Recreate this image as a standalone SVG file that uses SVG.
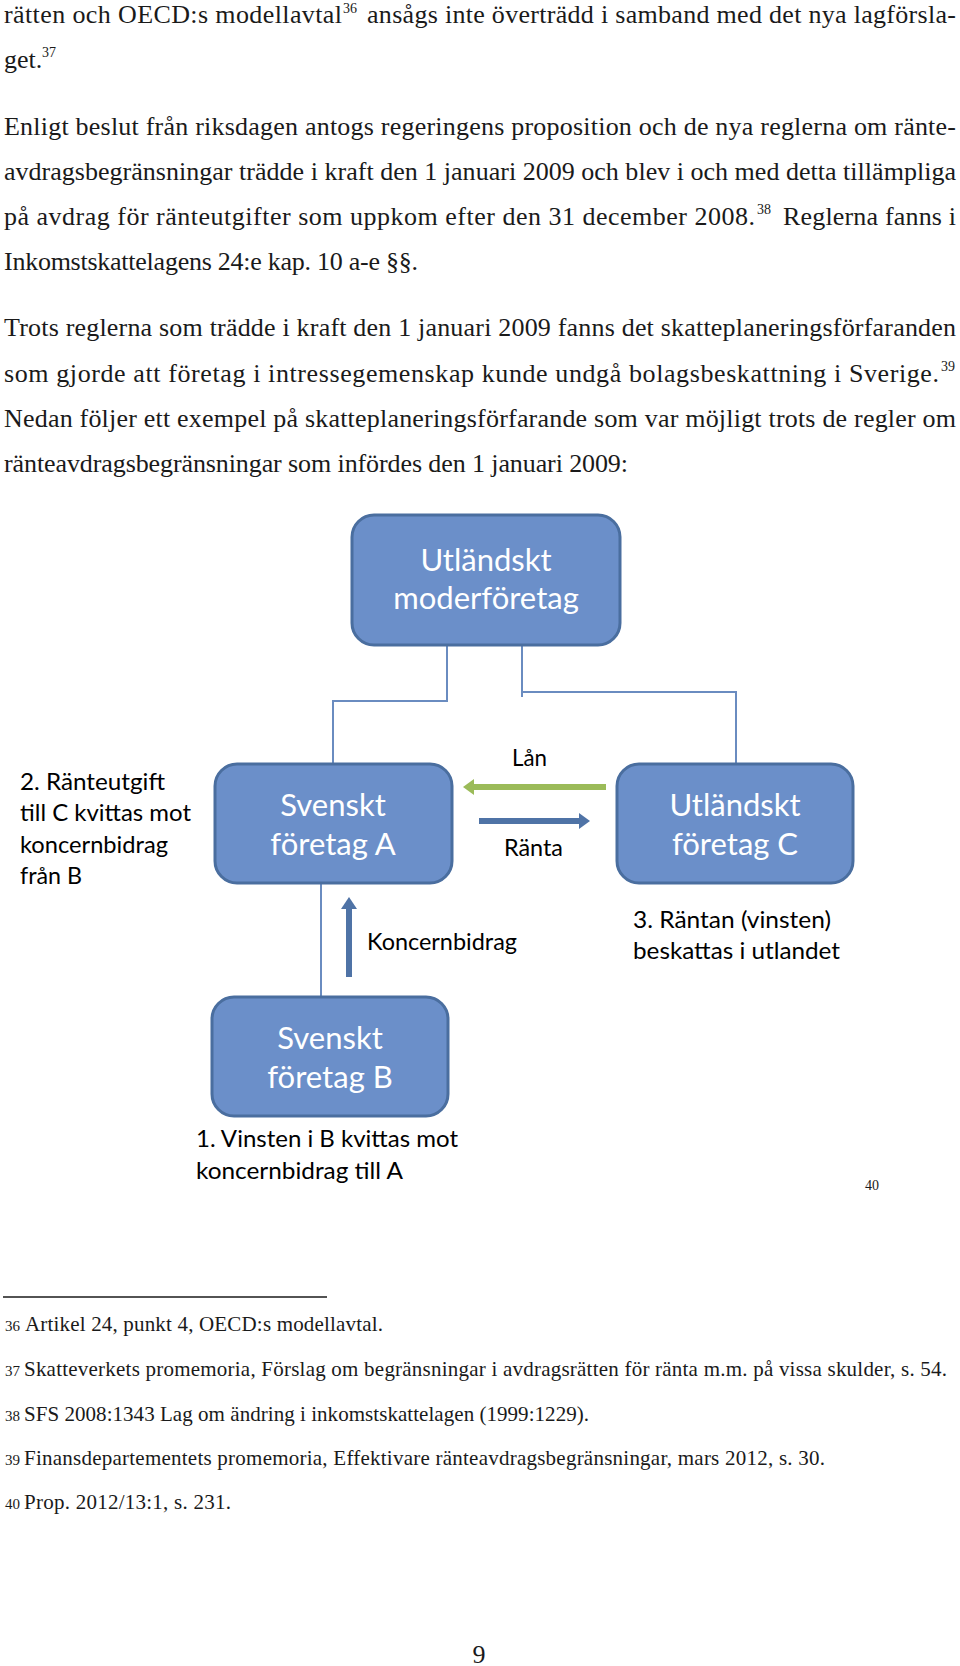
<svg xmlns="http://www.w3.org/2000/svg" width="960" height="1666" viewBox="0 0 960 1666">
<style>
.body{font-family:"Liberation Serif","Times New Roman",serif;font-size:26px;fill:#1a1a1a}
.sup{font-family:"Liberation Serif","Times New Roman",serif;font-size:14px;fill:#1a1a1a}
.fn{font-family:"Liberation Serif","Times New Roman",serif;font-size:21px;fill:#1a1a1a}
.fnum{font-family:"Liberation Serif","Times New Roman",serif;font-size:15px;fill:#1a1a1a}
.box{fill:#6B8FC9;stroke:#4A6E9F;stroke-width:3}
.bt{font-family:Lato,"Open Sans",sans-serif;font-size:31px;fill:#ffffff;text-anchor:middle}
.lbl{font-family:Lato,"Open Sans",sans-serif;font-size:23px;fill:#000000}
.con{fill:none;stroke:#6A8CC0;stroke-width:2}
</style>
<rect x="0" y="0" width="960" height="1666" fill="#ffffff"/>
<g id="text-body">
<text class="body" x="4" y="23" textLength="338" lengthAdjust="spacing">rätten och OECD:s modellavtal</text>
<text class="sup" x="343" y="13">36</text>
<text class="body" x="367" y="23" textLength="589" lengthAdjust="spacing">ansågs inte överträdd i samband med det nya lagförsla-</text>
<text class="body" x="4" y="68">get.</text>
<text class="sup" x="42" y="57">37</text>
<text class="body" x="4" y="135" textLength="952" lengthAdjust="spacing">Enligt beslut från riksdagen antogs regeringens proposition och de nya reglerna om ränte-</text>
<text class="body" x="4" y="180" textLength="952" lengthAdjust="spacing">avdragsbegränsningar trädde i kraft den 1 januari 2009 och blev i och med detta tillämpliga</text>
<text class="body" x="4" y="225" textLength="751" lengthAdjust="spacing">på avdrag för ränteutgifter som uppkom efter den 31 december 2008.</text>
<text class="sup" x="757" y="214">38</text>
<text class="body" x="783" y="225" textLength="173" lengthAdjust="spacing">Reglerna fanns i</text>
<text class="body" x="4" y="270" textLength="414" lengthAdjust="spacing">Inkomstskattelagens 24:e kap. 10 a-e §§.</text>
<text class="body" x="4" y="336" textLength="952" lengthAdjust="spacing">Trots reglerna som trädde i kraft den 1 januari 2009 fanns det skatteplaneringsförfaranden</text>
<text class="body" x="4" y="382" textLength="935" lengthAdjust="spacing">som gjorde att företag i intressegemenskap kunde undgå bolagsbeskattning i Sverige.</text>
<text class="sup" x="941" y="371">39</text>
<text class="body" x="4" y="427" textLength="952" lengthAdjust="spacing">Nedan följer ett exempel på skatteplaneringsförfarande som var möjligt trots de regler om</text>
<text class="body" x="4" y="472" textLength="624" lengthAdjust="spacing">ränteavdragsbegränsningar som infördes den 1 januari 2009:</text>
</g>
<g id="connectors">
<polyline class="con" points="447,645 447,701 333,701 333,764"/>
<polyline class="con" points="522,645 522,697"/>
<polyline class="con" points="522,692 736,692 736,764"/>
<line class="con" x1="321" y1="883" x2="321" y2="997"/>
<g id="arrow-lan">
<line x1="472" y1="787" x2="606" y2="787" stroke="#9BBB59" stroke-width="6"/>
<polygon points="463,787 474,779 474,795" fill="#9BBB59"/>
</g>
<g id="arrow-ranta">
<line x1="479" y1="821" x2="580" y2="821" stroke="#4F73A6" stroke-width="6"/>
<polygon points="590,821 579,813 579,829" fill="#4F73A6"/>
</g>
<g id="arrow-koncernbidrag">
<line x1="349" y1="977" x2="349" y2="907" stroke="#4F73A6" stroke-width="6"/>
<polygon points="349,897 341,909 357,909" fill="#4F73A6"/>
</g>
</g>
<g id="node-moderforetag">
<rect class="box" x="352" y="515" width="268" height="130" rx="22"/>
<text class="bt" x="486" y="571">Utländskt</text>
<text class="bt" x="486" y="609">moderföretag</text>
</g>
<g id="node-a">
<rect class="box" x="215" y="764" width="237" height="119" rx="22"/>
<text class="bt" x="333" y="816">Svenskt</text>
<text class="bt" x="333" y="855">företag A</text>
</g>
<g id="node-c">
<rect class="box" x="617" y="764" width="236" height="119" rx="22"/>
<text class="bt" x="735" y="816">Utländskt</text>
<text class="bt" x="735" y="855">företag C</text>
</g>
<g id="node-b">
<rect class="box" x="212" y="997" width="236" height="119" rx="22"/>
<text class="bt" x="330" y="1049">Svenskt</text>
<text class="bt" x="330" y="1088">företag B</text>
</g>
<g id="labels">
<text class="lbl" x="512" y="766" textLength="35" lengthAdjust="spacingAndGlyphs">Lån</text>
<text class="lbl" x="504" y="856" textLength="59" lengthAdjust="spacingAndGlyphs">Ränta</text>
<text class="lbl" x="367" y="950" textLength="150" lengthAdjust="spacingAndGlyphs">Koncernbidrag</text>
<text class="lbl" x="20" y="790" textLength="145" lengthAdjust="spacingAndGlyphs">2. Ränteutgift</text>
<text class="lbl" x="20" y="821" textLength="171" lengthAdjust="spacingAndGlyphs">till C kvittas mot</text>
<text class="lbl" x="20" y="853" textLength="148" lengthAdjust="spacingAndGlyphs">koncernbidrag</text>
<text class="lbl" x="20" y="884" textLength="62" lengthAdjust="spacingAndGlyphs">från B</text>
<text class="lbl" x="633" y="928" textLength="198" lengthAdjust="spacingAndGlyphs">3. Räntan (vinsten)</text>
<text class="lbl" x="633" y="959" textLength="207" lengthAdjust="spacingAndGlyphs">beskattas i utlandet</text>
<text class="lbl" x="196" y="1147" textLength="262" lengthAdjust="spacingAndGlyphs">1. Vinsten i B kvittas mot</text>
<text class="lbl" x="196" y="1179" textLength="207" lengthAdjust="spacingAndGlyphs">koncernbidrag till A</text>
</g>
<text class="sup" x="865" y="1190">40</text>
<g id="footnotes">
<line x1="3" y1="1297" x2="327" y2="1297" stroke="#1a1a1a" stroke-width="1.3"/>
<text class="fnum" x="5" y="1331">36</text>
<text class="fn" x="25" y="1331" textLength="358" lengthAdjust="spacing">Artikel 24, punkt 4, OECD:s modellavtal.</text>
<text class="fnum" x="5" y="1376">37</text>
<text class="fn" x="24" y="1376" textLength="923" lengthAdjust="spacing">Skatteverkets promemoria, Förslag om begränsningar i avdragsrätten för ränta m.m. på vissa skulder, s. 54.</text>
<text class="fnum" x="5" y="1421">38</text>
<text class="fn" x="24" y="1421" textLength="565" lengthAdjust="spacing">SFS 2008:1343 Lag om ändring i inkomstskattelagen (1999:1229).</text>
<text class="fnum" x="5" y="1465">39</text>
<text class="fn" x="24" y="1465" textLength="801" lengthAdjust="spacing">Finansdepartementets promemoria, Effektivare ränteavdragsbegränsningar, mars 2012, s. 30.</text>
<text class="fnum" x="5" y="1509">40</text>
<text class="fn" x="24" y="1509" textLength="207" lengthAdjust="spacing">Prop. 2012/13:1, s. 231.</text>
</g>
<text class="body" x="479" y="1663" text-anchor="middle">9</text>
</svg>
